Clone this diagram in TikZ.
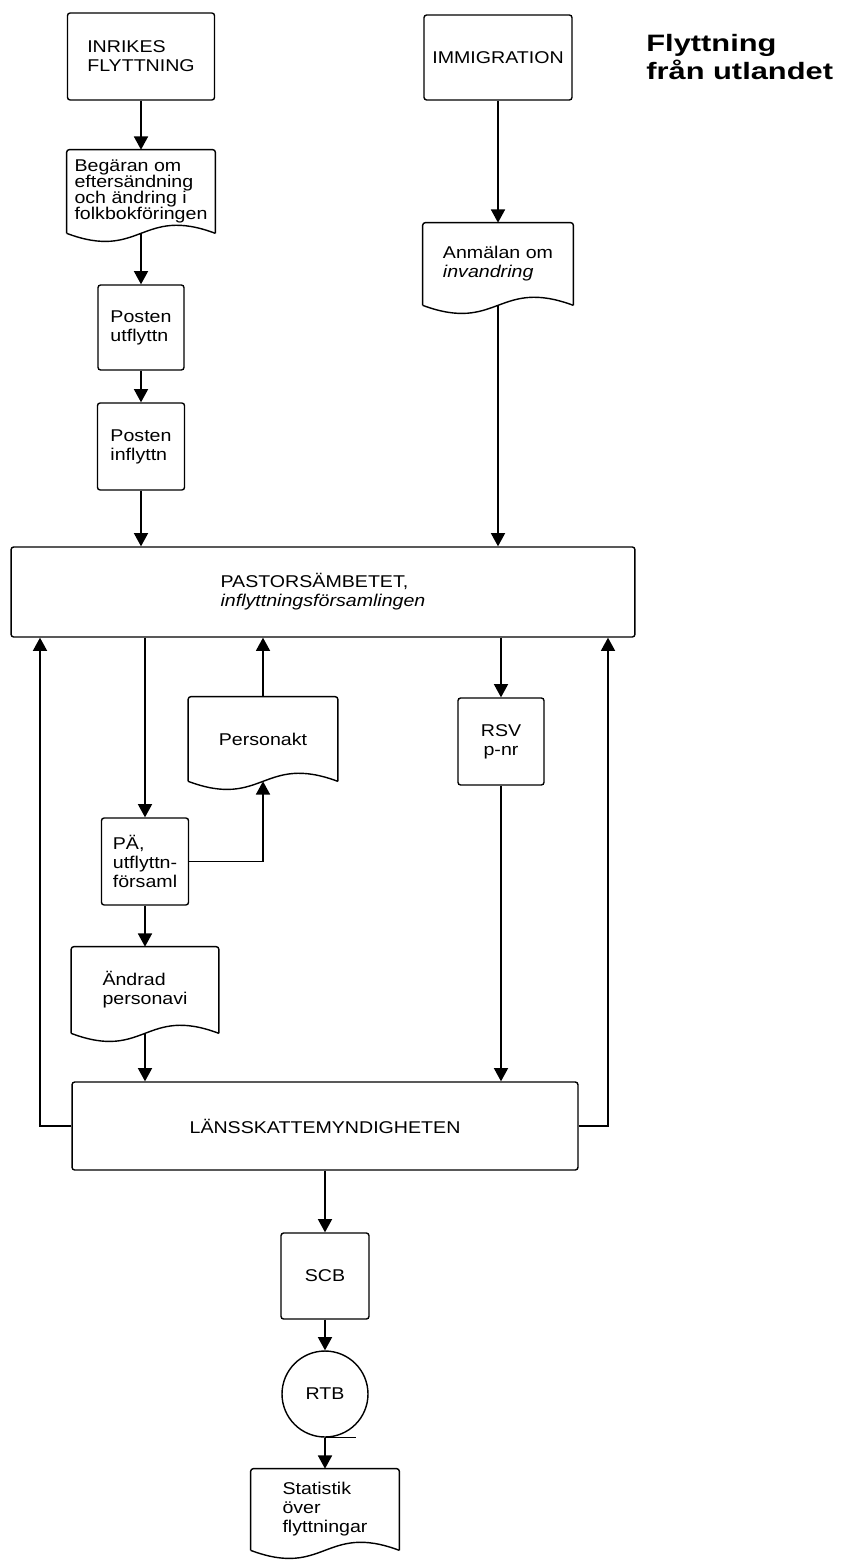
\documentclass[tikz,border=0pt]{standalone}
\usepackage{fontspec}
\setmainfont[FakeStretch=1.15]{Liberation Sans}
\newfontfamily\titlefont[FakeStretch=1.3]{Liberation Sans}
\usetikzlibrary{arrows.meta}

% document symbol: box with a wavy lower edge
\newcommand{\docoutline}[1]{%
  \draw[line width=0.8pt, rounded corners=1.5pt] (#1.south west) -- (#1.north west)
    -- (#1.north east) -- (#1.south east);
  \draw[line width=0.8pt] (#1.south east) .. controls ([yshift=0.56cm]#1.south)
    and ([yshift=-0.56cm]#1.south) .. (#1.south west);}

\begin{document}
\begin{tikzpicture}[x=0.02cm, y=-0.02cm, font=\fontsize{9.7}{10.8}\selectfont]
  \tikzstyle{box} = [draw, rounded corners=1.5pt, line width=0.8pt, align=left,
    inner sep=0pt]
  \tikzstyle{doc} = [align=left, inner sep=0pt]
  \tikzstyle{arr} = [-{Triangle[length=7.5pt,width=8pt]}, line width=0.8pt]

  \useasboundingbox (0,0) rectangle (841,1561);

  % Title
  \node[anchor=west, inner sep=0pt, align=left,
    font=\titlefont\bfseries\fontsize{13.5}{15.9}\selectfont] (title) at (646,57)
    {Flyttning\\från utlandet};

  % Upper part: the two kinds of moves
  \node[box, minimum width=2.94cm, minimum height=1.74cm] (inrikes) at (141,56.5)
    {INRIKES\\FLYTTNING};
  \node[box, minimum width=2.96cm, minimum height=1.70cm] (immig) at (498,57.5)
    {IMMIGRATION};
  \node[doc, minimum width=2.96cm, minimum height=1.66cm,
    font=\fontsize{9.7}{9.2}\selectfont] (begaran) at (141,191.5)
    {Begäran om\\eftersändning\\och ändring i\\folkbokföringen};
  \node[box, minimum width=1.72cm, minimum height=1.70cm] (utfl) at (141,327.5)
    {Posten\\utflyttn};
  \node[box, minimum width=1.74cm, minimum height=1.74cm] (infl) at (141,446.5)
    {Posten\\inflyttn};
  \node[doc, minimum width=3cm, minimum height=1.64cm] (anm) at (498,264)
    {Anmälan om\\\textit{invandring}};

  % Parish office
  \node[box, minimum width=12.48cm, minimum height=1.8cm] (pastor) at (323,592)
    {PASTORSÄMBETET,\\\textit{inflyttningsförsamlingen}};
  \node[doc, minimum width=2.98cm, minimum height=1.68cm] (personakt) at (263,739)
    {Personakt};
  \node[box, minimum width=1.72cm, minimum height=1.74cm, align=center] (rsv)
    at (501,741.5) {RSV\\p-nr};
  \node[box, minimum width=1.74cm, minimum height=1.74cm] (pa) at (145,861.5)
    {PÄ,\\utflyttn-\\församl};
  \node[doc, minimum width=2.94cm, minimum height=1.72cm] (andrad) at (145,990)
    {Ändrad\\personavi};

  % County tax office and statistics
  \node[box, minimum width=10.12cm, minimum height=1.76cm] (lans) at (325,1126)
    {LÄNSSKATTEMYNDIGHETEN};
  \node[box, minimum width=1.76cm, minimum height=1.72cm] (scb) at (325,1276)
    {SCB};
  \node[draw, circle, line width=0.8pt, minimum size=1.72cm, inner sep=0pt] (rtb)
    at (325,1394) {RTB};
  \node[doc, minimum width=2.96cm, minimum height=1.62cm] (stat) at (325,1509.5)
    {Statistik\\över\\flyttningar};

  \docoutline{begaran}
  \docoutline{anm}
  \docoutline{personakt}
  \docoutline{andrad}
  \docoutline{stat}

  % Flow
  \draw[arr] (inrikes) -- (begaran);
  \draw[arr] (begaran.south) -- (utfl);
  \draw[arr] (utfl) -- (infl);
  \draw[arr] (infl) -- (infl |- pastor.north);
  \draw[arr] (immig) -- (anm);
  \draw[arr] (anm.south) -- (anm.south |- pastor.north);
  \draw[arr] (pa |- pastor.south) -- (pa);
  \draw[arr] (personakt.north) -- (personakt.north |- pastor.south);
  \draw[arr] (pa.east) -| (personakt.south);
  \draw[arr] (rsv |- pastor.south) -- (rsv);
  \draw[arr] (pa) -- (andrad);
  \draw[arr] (andrad.south) -- (andrad.south |- lans.north);
  \draw[arr] (rsv) -- (rsv |- lans.north);

  % Feedback to the parish office
  \coordinate (lback) at (40,1126);
  \coordinate (rback) at (608,1126);
  \draw[arr] (lans.west) -- (lback) -- (lback |- pastor.south);
  \draw[arr] (lans.east) -- (rback) -- (rback |- pastor.south);

  \draw[arr] (lans) -- (scb);
  \draw[arr] (scb) -- (rtb);
  \draw[arr] (rtb) -- (stat);
  \draw[line width=0.8pt] (rtb.south) -- ++(31,0);
\end{tikzpicture}
\end{document}
